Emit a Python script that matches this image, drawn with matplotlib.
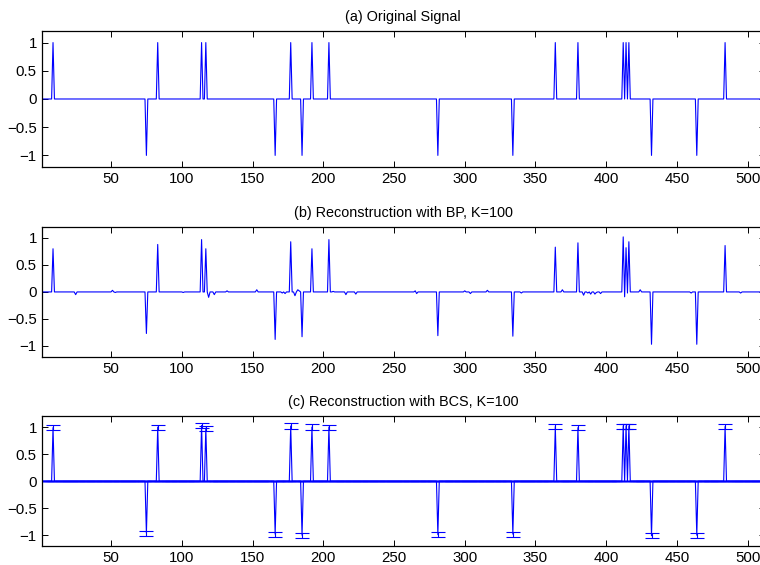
import numpy as np
import matplotlib
matplotlib.use("Agg")
import matplotlib.pyplot as plt

N = 512

# original sparse signal: spike positions (1-based) and signs
spike_idx = [9, 75, 83, 114, 117, 166, 177, 185, 192, 204,
             281, 334, 364, 380, 412, 414, 416, 432, 464, 484]
spike_val = [1, -1, 1, 1, 1, -1, 1, -1, 1, 1,
             -1, -1, 1, 1, 1, 1, 1, -1, -1, 1]

# BP reconstruction: nonzero samples
bp_idx = [9, 25, 51, 53, 75, 83, 101, 114, 117, 119, 121, 123, 132, 153,
          166, 171, 173, 177, 180, 182, 183, 185, 192, 204, 207, 216, 223,
          265, 266, 281, 300, 304, 316, 334, 340, 364, 369, 380, 384, 387,
          389, 392, 393, 396, 412, 413, 414, 415, 416, 424, 432, 460, 464,
          484, 495]
bp_val = [0.80, -0.05, 0.03, -0.01, -0.77, 0.88, -0.01, 0.97, 0.80, -0.10,
          0.00, -0.05, 0.02, 0.04, -0.88, -0.02, -0.03, 0.93, -0.07, 0.04,
          0.02, -0.83, 0.80, 0.97, 0.01, -0.05, -0.04, 0.02, -0.03, -0.81,
          0.02, -0.03, 0.03, -0.82, -0.02, 0.83, 0.04, 0.91, -0.06, -0.02,
          -0.04, -0.04, -0.01, -0.03, 1.02, -0.09, 0.82, -0.02, 0.93, 0.04,
          -0.97, -0.02, -0.97, 0.86, -0.02]

# BCS reconstruction: mean and error bar half-width at the spikes
bcs_val = [0.99, -0.96, 1.00, 1.03, 0.98, -0.98, 1.02, -1.00, 1.00, 1.00,
           -0.99, -0.98, 1.01, 0.99, 1.02, 1.02, 1.02, -1.01, -1.00, 1.01]
bcs_err = [0.046, 0.046, 0.046, 0.047, 0.047, 0.046, 0.049, 0.047, 0.049, 0.046,
           0.046, 0.044, 0.049, 0.046, 0.046, 0.046, 0.046, 0.043, 0.043, 0.052]

titles = ["(a) Original Signal",
          "(b) Reconstruction with BP, K=100",
          "(c) Reconstruction with BCS, K=100"]

plt.rcParams["font.family"] = ["Liberation Sans", "DejaVu Sans"]
plt.rcParams["font.size"] = 10


def dense(idx, val):
    out = np.zeros(N)
    out[np.array(idx) - 1] = val
    return out


def style(ax, title):
    ax.set_xlim(1, N)
    ax.set_ylim(-1.2, 1.2)
    ax.set_xticks(np.arange(50, 501, 50))
    ax.set_yticks([-1, -0.5, 0, 0.5, 1])
    ax.set_yticklabels(["\u22121", "\u22120.5", "0", "0.5", "1"])
    ax.tick_params(direction="in", length=4.5, width=0.7, top=True, right=True,
                   labelsize=10.8, pad=3.5)
    for s in ax.spines.values():
        s.set_linewidth(0.9)
    ax.set_title(title, fontsize=10.4, pad=7.5)


def main():
    n = np.arange(1, N + 1)
    x = dense(spike_idx, spike_val)
    x_bp = dense(bp_idx, bp_val)
    x_bcs = dense(spike_idx, bcs_val)
    err = dense(spike_idx, bcs_err)

    fig = plt.figure(figsize=(7.6, 5.65), dpi=100)
    left, width = 41.7 / 760, 723.0 / 760
    ax1 = fig.add_axes([left, 0.705, width, 0.2396])
    ax2 = fig.add_axes([left, 0.3687, width, 0.2292])
    ax3 = fig.add_axes([left, 0.0336, width, 0.2296])

    ax1.plot(n, x, color="blue", lw=0.8)
    ax2.plot(n, x_bp, color="blue", lw=0.8)
    ax3.errorbar(n, x_bcs, yerr=err, color="blue", lw=0.8, elinewidth=0.8,
                 capsize=5, capthick=0.8)

    for ax, t in zip([ax1, ax2, ax3], titles):
        style(ax, t)

    fig.savefig("out.png", dpi=100)


if __name__ == "__main__":
    main()
